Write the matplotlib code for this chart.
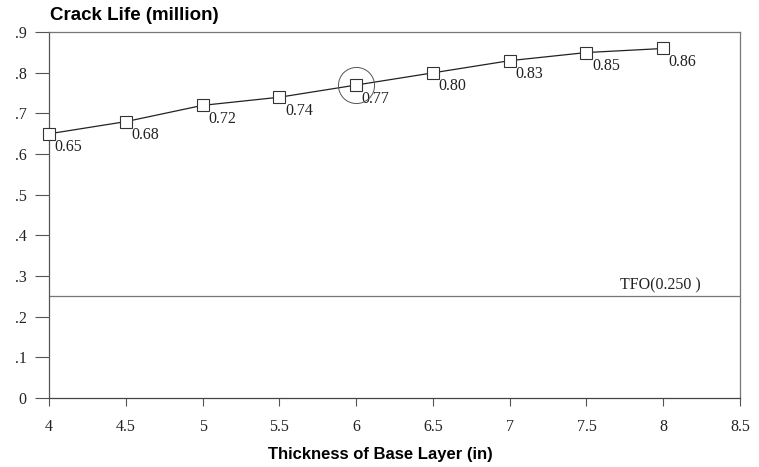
import matplotlib.pyplot as plt

thickness = [4, 4.5, 5, 5.5, 6, 6.5, 7, 7.5, 8]
crack_life = [0.65, 0.68, 0.72, 0.74, 0.77, 0.80, 0.83, 0.85, 0.86]
point_labels = ["0.65", "0.68", "0.72", "0.74", "0.77", "0.80", "0.83", "0.85", "0.86"]
highlight = 4
tfo = 0.25
x_ticks = [4, 4.5, 5, 5.5, 6, 6.5, 7, 7.5, 8, 8.5]
x_ticklabels = ["4", "4.5", "5", "5.5", "6", "6.5", "7", "7.5", "8", "8.5"]
y_ticks = [0, 0.1, 0.2, 0.3, 0.4, 0.5, 0.6, 0.7, 0.8, 0.9]
y_ticklabels = ["0", ".1", ".2", ".3", ".4", ".5", ".6", ".7", ".8", ".9"]

serif = "Liberation Serif"
sans = "Liberation Sans"

fig = plt.figure(figsize=(7.59, 4.67), dpi=100)
ax = fig.add_axes([0.0646, 0.148, 0.9104, 0.783])

ax.axhline(tfo, color="#777777", lw=0.9)
ax.text(7.72, tfo + 0.008, "TFO(0.250 )", fontfamily=serif, fontsize=11.5,
        ha="left", va="bottom", color="#222222")

ax.plot(thickness, crack_life, color="#222222", lw=0.9, marker="s",
        markersize=9, markerfacecolor="white", markeredgecolor="#333333",
        markeredgewidth=0.8, zorder=3, clip_on=False)
ax.plot(thickness[highlight], crack_life[highlight], marker="o", markersize=26,
        markerfacecolor="none", markeredgecolor="#555555", markeredgewidth=0.7,
        zorder=4)

for x, y, lab in zip(thickness, crack_life, point_labels):
    ax.annotate(lab, (x, y), xytext=(4, -4), textcoords="offset points",
                ha="left", va="top", fontfamily=serif, fontsize=11.5,
                color="#222222")

ax.set_xlim(4, 8.5)
ax.set_ylim(0, 0.9)
ax.set_xticks(x_ticks)
ax.set_xticklabels(x_ticklabels, fontfamily=serif, fontsize=11.5)
ax.set_yticks(y_ticks)
ax.set_yticklabels(y_ticklabels, fontfamily=serif, fontsize=11.5)
ax.tick_params(axis="x", direction="out", length=6, width=0.8,
               color="#555555", labelcolor="#222222", pad=9)
ax.tick_params(axis="y", direction="out", length=10, width=0.8,
               color="#555555", labelcolor="#222222", pad=6)

for s in ax.spines.values():
    s.set_color("#777777")
    s.set_linewidth(0.9)
ax.spines["left"].set_color("#555555")
ax.spines["bottom"].set_color("#444444")

ax.set_xlabel("Thickness of Base Layer (in)", fontfamily=sans, fontsize=12,
              fontweight="bold")
ax.xaxis.set_label_coords(0.48, -0.135)
fig.text(0.066, 0.948, "Crack Life (million)", fontfamily=sans, fontsize=13.5,
         fontweight="bold", ha="left", va="bottom")

fig.savefig("out.png", dpi=100)
